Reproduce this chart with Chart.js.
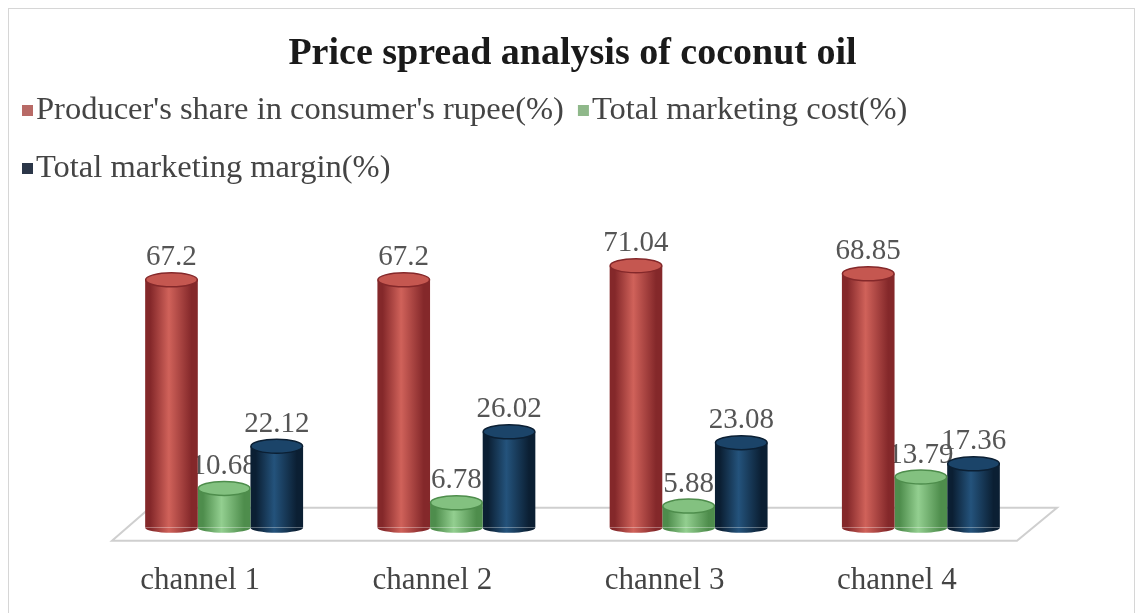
<!DOCTYPE html>
<html>
<head>
<meta charset="utf-8">
<script src="https://cdn.jsdelivr.net/npm/chart.js@4.4.1/dist/chart.umd.min.js"></script>
<style>
  html, body { margin: 0; padding: 0; background: #fff; }
</style>
</head>
<body>
<canvas id="chart" width="1139" height="613"></canvas>
<script>
const categories = ['channel 1', 'channel 2', 'channel 3', 'channel 4'];
const producerShare = [67.2, 67.2, 71.04, 68.85];
const marketingCost = [10.68, 6.78, 5.88, 13.79];
const marketingMargin = [22.12, 26.02, 23.08, 17.36];
const seriesNames = ["Producer's share in consumer's rupee(%)", 'Total marketing cost(%)', 'Total marketing margin(%)'];

const SERIF = '"Liberation Serif", "DejaVu Serif", serif';
const CAT_PCT = 0.68;
const BAR_PCT = 1.0;

// edge / middle / cap colours for the cylinder look
const palettes = [
  { edge: '#84282a', mid: '#d0625a', cap: '#c55750', key: '#b86a66' },
  { edge: '#4e8d4c', mid: '#93cf90', cap: '#83c180', key: '#8fb88a' },
  { edge: '#0b1f33', mid: '#24537c', cap: '#1b4469', key: '#2b3648' }
];

function barGradient(ctx) {
  const chart = ctx.chart;
  const pal = palettes[ctx.datasetIndex];
  if (ctx.type !== 'data' || !chart.chartArea) return pal.mid;
  const x = chart.scales.x;
  const catW = x.width / categories.length;
  const groupW = catW * CAT_PCT;
  const slot = groupW / 3;
  const cx = x.getPixelForValue(ctx.dataIndex) - groupW / 2 + (ctx.datasetIndex + 0.5) * slot;
  const half = slot * BAR_PCT / 2;
  const g = chart.ctx.createLinearGradient(cx - half, 0, cx + half, 0);
  g.addColorStop(0, pal.edge);
  g.addColorStop(0.1, pal.edge);
  g.addColorStop(0.45, pal.mid);
  g.addColorStop(0.88, pal.edge);
  g.addColorStop(1, pal.edge);
  return g;
}

const decorPlugin = {
  id: 'decor',
  beforeDraw(chart) {
    const c = chart.ctx;
    c.save();
    c.fillStyle = '#fff';
    c.fillRect(0, 0, chart.width, chart.height);
    c.strokeStyle = '#d6d6d6';
    c.lineWidth = 1;
    c.strokeRect(8.5, 8.5, chart.width - 13, chart.height + 10);
    c.restore();
  },
  beforeDatasetsDraw(chart) {
    const c = chart.ctx;
    const ca = chart.chartArea;
    // floor
    c.save();
    c.strokeStyle = '#cfcfcf';
    c.lineWidth = 2;
    c.beginPath();
    c.moveTo(ca.left + 4, ca.bottom + 13);
    c.lineTo(ca.left + 42, ca.bottom - 20);
    c.lineTo(ca.right + 20, ca.bottom - 20);
    c.lineTo(ca.right - 20, ca.bottom + 13);
    c.closePath();
    c.stroke();
    // value labels (behind the bars, like the original)
    c.font = '29px ' + SERIF;
    c.fillStyle = '#555';
    c.textAlign = 'center';
    c.textBaseline = 'middle';
    chart.data.datasets.forEach((ds, i) => {
      chart.getDatasetMeta(i).data.forEach((el, j) => {
        c.fillText(String(ds.data[j]), el.x, el.y - 22);
      });
    });
    c.restore();
  },
  afterDatasetsDraw(chart) {
    const c = chart.ctx;
    c.save();
    chart.data.datasets.forEach((ds, i) => {
      const pal = palettes[i];
      chart.getDatasetMeta(i).data.forEach(el => {
        const rx = el.width / 2;
        // rounded bottom
        c.beginPath();
        c.ellipse(el.x, el.base, rx, 5, 0, 0, Math.PI);
        c.fillStyle = el.options.backgroundColor;
        c.fill();
        // top cap
        c.beginPath();
        c.ellipse(el.x, el.y, rx - 0.5, 7, 0, 0, Math.PI * 2);
        c.fillStyle = pal.cap;
        c.fill();
        c.strokeStyle = pal.edge;
        c.lineWidth = 1.5;
        c.stroke();
      });
    });
    c.restore();
  },
  afterDraw(chart) {
    const c = chart.ctx;
    c.save();
    c.font = '32.5px ' + SERIF;
    c.textBaseline = 'middle';
    const rows = [[0, 1], [2]];
    const rowY = [110, 168];
    rows.forEach((row, r) => {
      let x = 22;
      row.forEach(i => {
        c.fillStyle = palettes[i].key;
        c.fillRect(x, rowY[r] - 5, 11, 11);
        c.fillStyle = '#444';
        c.fillText(seriesNames[i], x + 14, rowY[r]);
        x += 14 + c.measureText(seriesNames[i]).width + 14;
      });
    });
    c.restore();
  }
};

new Chart(document.getElementById('chart'), {
  type: 'bar',
  data: {
    labels: categories,
    datasets: [
      { label: seriesNames[0], data: producerShare, backgroundColor: barGradient },
      { label: seriesNames[1], data: marketingCost, backgroundColor: barGradient },
      { label: seriesNames[2], data: marketingMargin, backgroundColor: barGradient }
    ]
  },
  options: {
    responsive: false,
    animation: false,
    categoryPercentage: CAT_PCT,
    barPercentage: BAR_PCT,
    layout: { padding: { left: 108, right: 102, top: 0, bottom: -20 } },
    plugins: {
      legend: { display: false },
      tooltip: { enabled: false },
      title: {
        display: true,
        text: 'Price spread analysis of coconut oil',
        color: '#1a1a1a',
        font: { family: SERIF, size: 38, weight: 'bold' },
        padding: { top: 31, bottom: 156 }
      }
    },
    scales: {
      x: {
        grid: { display: false, drawTicks: false },
        border: { display: false },
        ticks: { color: '#444', font: { family: SERIF, size: 31 }, padding: 34, labelOffset: -24 }
      },
      y: { display: false, min: 0, max: 80 }
    }
  },
  plugins: [decorPlugin]
});
</script>
</body>
</html>
